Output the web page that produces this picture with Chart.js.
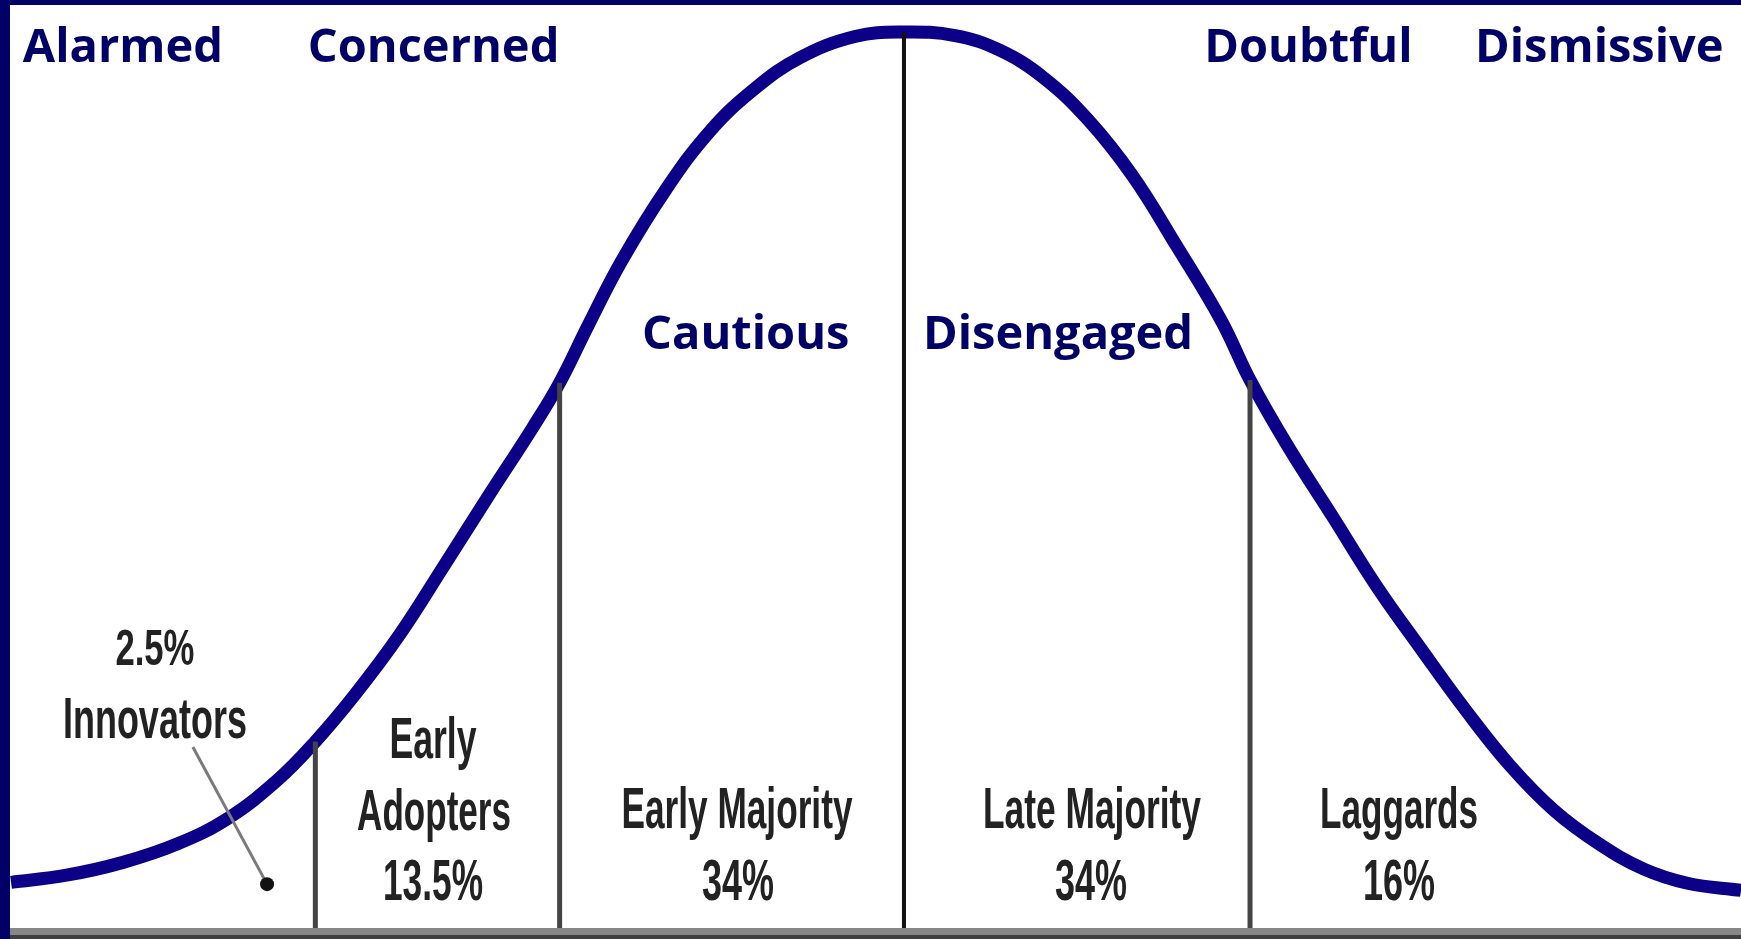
<!DOCTYPE html>
<html>
<head>
<meta charset="utf-8">
<title>Bell curve - adoption segments</title>
<script src="https://cdn.jsdelivr.net/npm/chart.js@4.4.1/dist/chart.umd.min.js"></script>
<style>
  html, body { margin: 0; padding: 0; background: #fff; }
  canvas { display: block; }
</style>
</head>
<body>
<canvas id="chart" width="1741" height="939"></canvas>
<script>
// x in standard deviations from the mean, y in % of peak height
const curveX = [-2.588, -2.427, -2.266, -2.105, -1.961, -1.816, -1.706, -1.590, -1.462, -1.333,
  -1.204, -1.076, -0.998, -0.914, -0.818, -0.689, -0.561, -0.432, -0.303, -0.142, 0,
  0.148, 0.276, 0.405, 0.534, 0.662, 0.791, 0.920, 1.003, 1.113, 1.242, 1.370, 1.499,
  1.628, 1.757, 1.885, 2.014, 2.143, 2.271, 2.426];
const curveY = [5.2, 6.0, 7.4, 9.5, 12.3, 16.6, 20.9, 26.2, 32.8, 40.5,
  48.3, 55.9, 60.9, 67.4, 74.5, 82.5, 89.0, 93.7, 97.1, 99.5, 100,
  99.6, 98.0, 94.9, 90.2, 84.0, 76.1, 67.8, 61.2, 53.8, 46.0, 38.2, 31.2,
  24.4, 18.2, 13.2, 9.5, 6.7, 5.1, 4.3];

// segment boundaries and the curve height where each line stops
const boundaryX = [-1.706, -0.998, 0, 1.003];
const boundaryTop = [20.9, 60.9, 100, 61.2];

// navy attitude labels: left x, baseline y
const groupLabels = ['Alarmed', 'Concerned', 'Cautious', 'Disengaged', 'Doubtful', 'Dismissive'];
const groupX = [-2.554, -1.728, -0.759, 0.055, 0.870, 1.655];
const groupY = [96.7, 96.7, 64.7, 64.7, 96.7, 96.7];

// adopter category labels: centre x, baseline y, width in px, size in px
const segLabels = ['2.5%', 'Innovators', 'Early', 'Adopters', '13.5%', 'Early Majority', '34%',
  'Late Majority', '34%', 'Laggards', '16%'];
const segX = [-2.171, -2.171, -1.365, -1.362, -1.365, -0.484, -0.481, 0.545, 0.542, 1.435, 1.435];
const segY = [29.4, 21.3, 19.1, 11.0, 3.2, 11.3, 3.2, 11.3, 3.2, 11.3, 3.2];
const segW = [79, 184, 87, 154, 100, 231, 72, 218, 72, 158, 72];
const segSize = [50, 58, 58, 58, 57, 58, 57, 58, 57, 58, 57];

// pointer from "Innovators" down to the tail
const pointerX = [-2.061, -1.846];
const pointerY = [20.3, 5.0];

const NAVY = '#000066';
const CURVE = '#0b0087';

const datasets = [];
boundaryX.forEach((bx, i) => {
  datasets.push({
    data: [{ x: bx, y: 0 }, { x: bx, y: boundaryTop[i] }],
    borderColor: bx === 0 ? '#111' : '#444',
    borderWidth: bx === 0 ? 4 : 5,
    pointRadius: 0,
    clip: false
  });
});
datasets.push({
  data: curveX.map((x, i) => ({ x, y: curveY[i] })),
  borderColor: CURVE,
  borderWidth: 13,
  pointRadius: 0,
  tension: 0.4,
  clip: false
});

const decor = {
  id: 'decor',
  beforeDraw(chart) {
    const { ctx, width, height } = chart;
    ctx.save();
    ctx.fillStyle = '#fff';
    ctx.fillRect(0, 0, width, height);
    ctx.restore();
  },
  afterDatasetsDraw(chart) {
    const { ctx, width, height, scales: { x, y } } = chart;
    ctx.save();
    // baseline axis
    const base = y.getPixelForValue(0);
    ctx.fillStyle = '#878787';
    ctx.fillRect(0, base - 1, width, 7);
    ctx.fillStyle = '#3f3f3f';
    ctx.fillRect(0, base + 6, width, height - base - 6);
    // frame
    ctx.fillStyle = NAVY;
    ctx.fillRect(0, 0, width, 5);
    ctx.fillRect(0, 0, 10, height);

    // innovators pointer
    ctx.strokeStyle = '#7a7a7a';
    ctx.lineWidth = 3;
    ctx.beginPath();
    ctx.moveTo(x.getPixelForValue(pointerX[0]), y.getPixelForValue(pointerY[0]));
    ctx.lineTo(x.getPixelForValue(pointerX[1]), y.getPixelForValue(pointerY[1]));
    ctx.stroke();
    ctx.fillStyle = '#111';
    ctx.beginPath();
    ctx.arc(x.getPixelForValue(pointerX[1]), y.getPixelForValue(pointerY[1]), 7, 0, Math.PI * 2);
    ctx.fill();

    // attitude labels
    ctx.fillStyle = NAVY;
    ctx.font = 'bold 47px "Open Sans", "DejaVu Sans", sans-serif';
    ctx.textAlign = 'left';
    ctx.textBaseline = 'alphabetic';
    groupLabels.forEach((t, i) => {
      ctx.fillText(t, x.getPixelForValue(groupX[i]), y.getPixelForValue(groupY[i]));
    });

    // adopter labels, squeezed to the narrow look of the original
    ctx.fillStyle = '#222';
    ctx.textAlign = 'center';
    segLabels.forEach((t, i) => {
      ctx.font = 'bold ' + segSize[i] + 'px "Liberation Sans Narrow", "Liberation Sans", Arial, sans-serif';
      const w = ctx.measureText(t).width;
      const sx = segW[i] / w;
      ctx.save();
      ctx.translate(x.getPixelForValue(segX[i]), y.getPixelForValue(segY[i]));
      ctx.scale(sx, 1);
      ctx.fillText(t, 0, 0);
      ctx.restore();
    });
    ctx.restore();
  }
};

new Chart(document.getElementById('chart'), {
  type: 'line',
  data: { datasets },
  options: {
    responsive: false,
    animation: false,
    devicePixelRatio: 1,
    layout: { padding: { left: 10, right: 0, top: 0, bottom: 10 } },
    plugins: { legend: { display: false }, tooltip: { enabled: false } },
    scales: {
      x: { type: 'linear', min: -2.591, max: 2.426, display: false },
      y: { min: 0, max: 103.57, display: false }
    }
  },
  plugins: [decor]
});
</script>
</body>
</html>
